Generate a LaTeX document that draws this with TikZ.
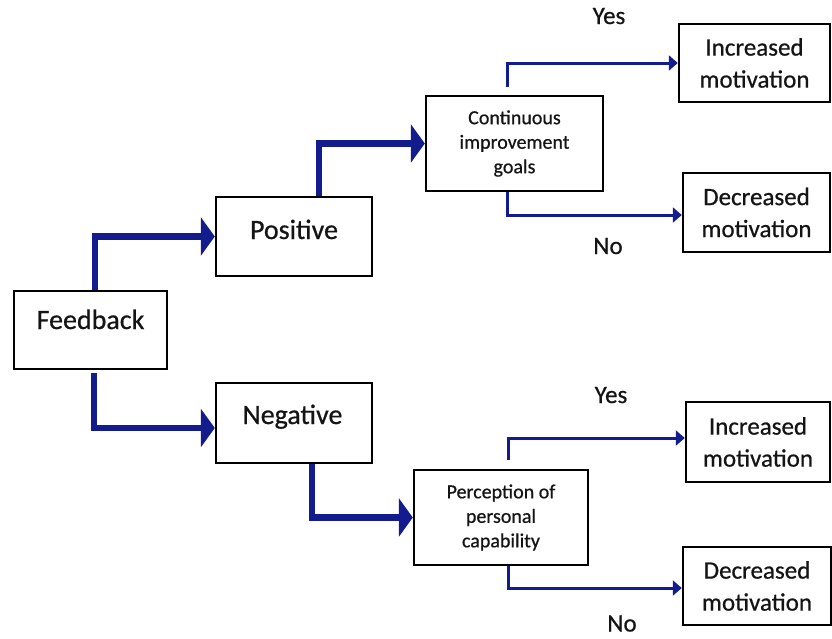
\documentclass[tikz,border=0pt]{standalone}
\usepackage{fontspec}
\setmainfont{Carlito}[FakeBold=0.6]
\usetikzlibrary{arrows.meta}
\definecolor{navy}{RGB}{18,28,140}
\definecolor{ink}{RGB}{20,20,20}
\begin{document}
\begin{tikzpicture}[x=1pt,y=-1pt,
  box/.style={draw=black, line width=2.4pt, fill=white, inner sep=0pt, text=ink},
  bigtext/.style={font=\fontsize{28}{34}\selectfont, anchor=base, inner sep=0pt, text=ink},
  outcome/.style={box, font=\fontsize{25}{32}\selectfont, align=center},
  decision/.style={box, font=\fontsize{20}{24.5}\selectfont, align=center},
  answer/.style={font=\fontsize{25}{30}\selectfont, anchor=base, inner sep=0pt, text=ink},
  bigarrow/.style={draw=navy, line width=6.5pt, -{Triangle[length=14pt,width=38pt]}},
  smallarrow/.style={draw=navy, line width=3pt, -{Triangle[length=9pt,width=15pt]}},
]
\useasboundingbox (0,0) rectangle (832,638);

% first level
\node[box, minimum width=153pt, minimum height=78pt] (fb) at (90.5,330) {};
\node[bigtext] (fbl) at (90.5,329) {Feedback};

% second level
\node[box, minimum width=156pt, minimum height=79pt] (pos) at (294,236.5) {};
\node[bigtext] (posl) at (294,239) {Positive};
\node[box, minimum width=156pt, minimum height=80pt] (neg) at (294,423) {};
\node[bigtext] (negl) at (292.5,424) {Negative};

% decision boxes
\node[decision, minimum width=177pt, minimum height=95pt] (cont) at (514.5,143.5)
  {Continuous\\improvement\\goals};
\node[decision, minimum width=174pt, minimum height=95pt] (perc) at (501,517.5)
  {Perception of\\personal\\capability};

% outcomes
\node[outcome, minimum width=151pt, minimum height=78pt] (inc1) at (754.5,63) {Increased\\motivation};
\node[outcome, minimum width=147pt, minimum height=79pt] (dec1) at (756.5,212.5) {Decreased\\motivation};
\node[outcome, minimum width=144pt, minimum height=80pt] (inc2) at (758,442) {Increased\\motivation};
\node[outcome, minimum width=148pt, minimum height=78pt] (dec2) at (757,586) {Decreased\\motivation};

% answers
\node[answer] (y1) at (609,24) {Yes};
\node[answer] (n1) at (608,254) {No};
\node[answer] (y2) at (611,403) {Yes};
\node[answer] (n2) at (622,631.5) {No};

% thick connectors
\draw[bigarrow] ([xshift=4.5pt]fb.north) |- (pos.west);
\draw[bigarrow, shorten <=3pt] ([xshift=3.5pt]fb.south) |- ([yshift=-5pt]neg.west);
\draw[bigarrow] ([xshift=25pt]pos.north) |- (cont.west);
\draw[bigarrow] ([xshift=18pt]neg.south) |- (perc.west);

% thin connectors
\draw[smallarrow, shorten <=8pt] ([xshift=-7.5pt]cont.north) |- (inc1.west);
\draw[smallarrow] ([xshift=-7.5pt]cont.south) |- ([yshift=-2.5pt]dec1.west);
\draw[smallarrow, shorten <=9pt] ([xshift=7pt]perc.north) |- ([yshift=4pt]inc2.west);
\draw[smallarrow] ([xshift=7pt]perc.south) |- ([yshift=-2pt]dec2.west);
\end{tikzpicture}
\end{document}
